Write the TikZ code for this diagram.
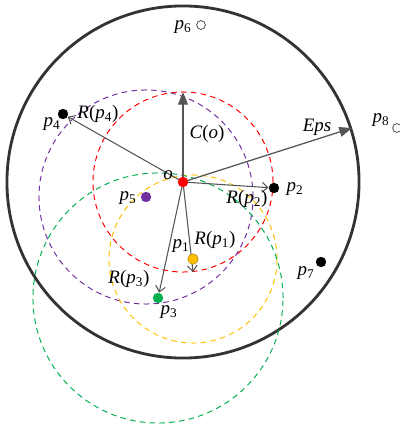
\documentclass[tikz,border=0pt]{standalone}
\usepackage{fontspec}
\setmainfont{Liberation Serif}
\usetikzlibrary{positioning, backgrounds, arrows.meta}
\definecolor{ptR}{HTML}{FF0000}
\definecolor{ptY}{HTML}{FFC000}
\definecolor{ptG}{HTML}{00B050}
\definecolor{ptV}{HTML}{7030A0}
\definecolor{axG}{HTML}{555555}
\definecolor{rimK}{HTML}{333333}
\newcommand{\lp}[1]{\textit{p}\textsubscript{#1}}

\begin{document}
\begin{tikzpicture}[x=0.025cm, y=-0.025cm,
    font=\fontsize{13.5}{16}\selectfont,
    dot/.style={circle, inner sep=0pt, minimum size=0.26cm},
    hollow/.style={circle, draw=axG, line width=0.6pt, inner sep=0pt, minimum size=0.22cm},
    ring/.style={dash pattern=on 4pt off 3pt, line width=0.7pt},
    ray/.style={draw=axG, line width=0.75pt, -{Straight Barb[length=4pt, width=7pt]}},
    axis/.style={draw=axG, line width=0.9pt, -{Triangle[length=9pt, width=7pt]}}]
  \useasboundingbox (0,0) rectangle (400,427);
  % points
  \node[dot, fill=ptR] (o) at (183,182) {};
  \node[dot, fill=ptY, draw=ptY!70!black, line width=0.4pt] (p1) at (193,259) {};
  \node[dot, fill=black] (p2) at (274,188) {};
  \node[dot, fill=ptG] (p3) at (158,298) {};
  \node[dot, fill=black] (p4) at (63,114) {};
  \node[dot, fill=ptV] (p5) at (146,197) {};
  \node[hollow] (p6) at (201,25) {};
  \node[dot, fill=black] (p7) at (321,262) {};
  \node[hollow] (p8) at (397,128) {};
  \coordinate (c) at (183,92);
  \coordinate (e) at (352,128);
  \coordinate (r1) at (193,272);
  \begin{scope}[on background layer]
    % neighbourhoods
    \draw[rimK, line width=2pt] (o) circle[radius=4.4cm];
    \draw[ring, ptR] (o) circle[radius=2.25cm];
    \draw[ring, ptV] (p5) circle[radius=2.675cm];
    \draw[ring, ptY] (p1) circle[radius=2.1cm];
    \draw[ring, ptG] (p3) circle[radius=3.125cm];
    % radii
    \draw[axis] (o.center) -- (c);
    \draw[axis] (o.center) -- (e);
    \draw[ray] (o.center) -- (p4);
    \draw[ray] (o.center) -- (p2);
    \draw[ray] (o.center) -- (p3);
    \draw[ray] (o.center) -- (r1);
  \end{scope}
  % labels
  \node (lo) at (168,175) {\textit{o}};
  \node (lc) at (207,134) {\textit{C}(\textit{o})};
  \node (le) at (317,127) {\textit{Eps}};
  \node (l1) at (181,246) {\lp{1}};
  \node (lr1) at (215,240) {\textit{R}(\lp{1})};
  \node (l2) at (295,189) {\lp{2}};
  \node (lr2) at (247,199) {\textit{R}(\lp{2})};
  \node (l3) at (169,312) {\lp{3}};
  \node (lr3) at (129,279) {\textit{R}(\lp{3})};
  \node (l4) at (52,124) {\lp{4}};
  \node (lr4) at (98,114) {\textit{R}(\lp{4})};
  \node (l5) at (128,198) {\lp{5}};
  \node (l6) at (183,27) {\lp{6}};
  \node (l7) at (306,273) {\lp{7}};
  \node (l8) at (381,120) {\lp{8}};
\end{tikzpicture}
\end{document}
